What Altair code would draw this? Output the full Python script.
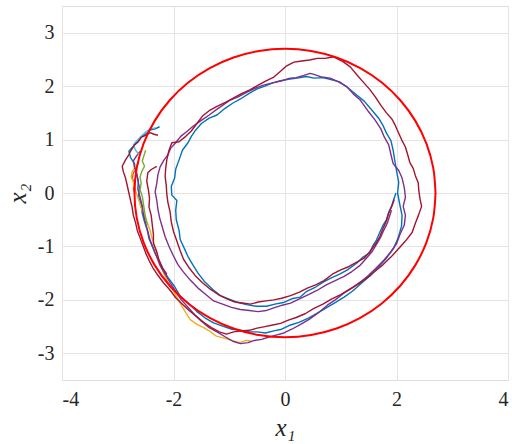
import altair as alt
import pandas as pd

# ---- data (x1, x2 pairs) ----
blue = [(-2.25,1.24),(-2.33,1.2),(-2.42,1.18),(-2.5,1.1),(-2.57,1.06),(-2.63,0.98),(-2.7,0.9),(-2.8,0.78),(-2.77,0.66),(-2.7,0.55),(-2.67,0.4),(-2.64,0.24),(-2.61,0.1),(-2.63,-0.06),(-2.58,-0.22),(-2.56,-0.38),(-2.52,-0.54),(-2.47,-0.7),(-2.44,-0.85),(-2.38,-1.0),(-2.32,-1.15),(-2.24,-1.3),(-2.17,-1.46),(-2.1,-1.58),(-1.98,-1.75),(-1.88,-1.93),(-1.74,-2.06),(-1.58,-2.22),(-1.43,-2.34),(-1.28,-2.43),(-1.12,-2.49),(-0.95,-2.55),(-0.8,-2.57),(-0.64,-2.6),(-0.5,-2.6),(-0.35,-2.62),(-0.2,-2.58),(-0.06,-2.55),(0.1,-2.47),(0.25,-2.42),(0.42,-2.34),(0.58,-2.25),(0.74,-2.15),(0.9,-2.05),(1.06,-1.95),(1.22,-1.83),(1.38,-1.68),(1.53,-1.55),(1.68,-1.38),(1.82,-1.22),(1.95,-1.03),(2.03,-0.84),(2.09,-0.62),(2.1,-0.42),(2.06,-0.22),(2.02,0.0),(2.04,0.2),(2.0,0.42),(1.97,0.6),(1.94,0.8),(1.9,0.98),(1.82,1.12),(1.76,1.26),(1.68,1.4),(1.56,1.55),(1.42,1.72),(1.28,1.84),(1.14,1.96),(0.98,2.08),(0.84,2.12),(0.68,2.16),(0.52,2.15),(0.38,2.18),(0.22,2.15),(0.06,2.13),(-0.08,2.1),(-0.22,2.06),(-0.36,2.0),(-0.5,1.95),(-0.65,1.86),(-0.8,1.76),(-0.94,1.68),(-1.08,1.58),(-1.22,1.46),(-1.36,1.4),(-1.5,1.3),(-1.6,1.18),(-1.68,1.06),(-1.74,0.94),(-1.84,0.8),(-1.9,0.62),(-1.96,0.45),(-1.98,0.28),(-2.04,0.12),(-2.03,-0.04),(-1.94,-0.14),(-1.96,-0.32),(-1.95,-0.5),(-1.9,-0.7),(-1.88,-0.87),(-1.8,-1.05),(-1.74,-1.19),(-1.65,-1.35),(-1.56,-1.5),(-1.45,-1.65),(-1.3,-1.8),(-1.16,-1.92),(-0.99,-1.99),(-0.84,-2.05),(-0.69,-2.09),(-0.52,-2.12),(-0.33,-2.12),(-0.18,-2.08),(-0.03,-2.05),(0.12,-1.98),(0.27,-1.95),(0.39,-1.84),(0.55,-1.76),(0.7,-1.66),(0.85,-1.58),(0.98,-1.52),(1.12,-1.44),(1.29,-1.31),(1.4,-1.2),(1.52,-1.12),(1.58,-0.98),(1.64,-0.88),(1.7,-0.74),(1.76,-0.6),(1.82,-0.5),(1.86,-0.36),(1.91,-0.25),(1.95,-0.12),(1.99,0.0)]

orange = [(-2.66,0.45),(-2.72,0.38),(-2.74,0.28),(-2.7,0.18),(-2.72,0.08),(-2.69,-0.02)]

yellow = [(-2.62,0.58),(-2.68,0.5),(-2.74,0.4),(-2.76,0.3),(-2.72,0.2),(-2.7,0.1),(-2.66,-0.02),(-2.62,-0.14),(-2.58,-0.28),(-2.52,-0.42),(-2.46,-0.58),(-2.42,-0.7),(-2.38,-0.86),(-2.33,-1.02),(-2.28,-1.2),(-2.22,-1.38),(-2.16,-1.54),(-2.1,-1.67),(-2.02,-1.8),(-1.94,-1.95),(-1.86,-2.1),(-1.78,-2.24),(-1.7,-2.37),(-1.58,-2.46),(-1.46,-2.52),(-1.36,-2.58),(-1.23,-2.68),(-1.08,-2.72),(-0.93,-2.77),(-0.81,-2.8),(-0.7,-2.76),(-0.6,-2.77)]

purple = [(-2.6,0.78),(-2.66,0.7),(-2.72,0.6),(-2.7,0.48),(-2.66,0.36),(-2.63,0.22),(-2.64,0.08),(-2.6,-0.08),(-2.56,-0.24),(-2.54,-0.4),(-2.5,-0.56),(-2.46,-0.72),(-2.42,-0.88),(-2.36,-1.04),(-2.3,-1.2),(-2.24,-1.36),(-2.15,-1.52),(-2.06,-1.68),(-1.96,-1.84),(-1.86,-2.0),(-1.74,-2.14),(-1.62,-2.28),(-1.5,-2.4),(-1.36,-2.52),(-1.22,-2.6),(-1.06,-2.7),(-0.92,-2.78),(-0.8,-2.82),(-0.66,-2.8),(-0.55,-2.76),(-0.42,-2.74),(-0.3,-2.7),(-0.16,-2.66),(-0.02,-2.62),(0.12,-2.55),(0.28,-2.46),(0.44,-2.36),(0.6,-2.24),(0.76,-2.1),(0.9,-2.0),(1.05,-1.88),(1.2,-1.78),(1.36,-1.66),(1.5,-1.54),(1.64,-1.4),(1.78,-1.25),(1.9,-1.1),(2.0,-0.95),(2.06,-0.78),(2.14,-0.6),(2.16,-0.42),(2.12,-0.25),(2.16,-0.08),(2.14,0.1),(2.1,0.28),(2.04,0.42),(1.94,0.55),(1.9,0.72),(1.86,0.9),(1.78,1.05),(1.72,1.2),(1.62,1.36),(1.5,1.52),(1.35,1.74),(1.22,1.86),(1.11,1.99),(0.96,2.08),(0.81,2.15),(0.66,2.17),(0.52,2.22),(0.45,2.24),(0.34,2.2),(0.2,2.16),(0.09,2.15),(-0.06,2.1),(-0.22,2.06),(-0.39,2.02),(-0.54,1.96),(-0.7,1.88),(-0.84,1.8),(-0.98,1.74),(-1.12,1.64),(-1.23,1.56),(-1.36,1.46),(-1.5,1.36),(-1.65,1.25),(-1.76,1.15),(-1.87,1.06),(-1.96,0.94),(-2.05,0.84),(-2.1,0.72),(-2.18,0.6),(-2.24,0.49),(-2.28,0.34),(-2.3,0.18),(-2.33,0.02),(-2.3,-0.14),(-2.28,-0.3),(-2.25,-0.46),(-2.2,-0.64),(-2.15,-0.82),(-2.08,-1.0),(-2.0,-1.18),(-1.92,-1.34),(-1.82,-1.48),(-1.7,-1.63),(-1.56,-1.78),(-1.42,-1.9),(-1.28,-2.02),(-1.12,-2.08),(-0.96,-2.14),(-0.8,-2.18),(-0.64,-2.2),(-0.48,-2.22),(-0.34,-2.2),(-0.2,-2.15),(-0.05,-2.1),(0.1,-2.06),(0.26,-1.98),(0.42,-1.9),(0.58,-1.82),(0.74,-1.72),(0.9,-1.64),(1.06,-1.56),(1.2,-1.47),(1.34,-1.36),(1.46,-1.22),(1.56,-1.1),(1.64,-0.96),(1.72,-0.82),(1.78,-0.68),(1.84,-0.55),(1.88,-0.42),(1.91,-0.32)]

green = [(-2.5,0.8),(-2.53,0.7),(-2.56,0.6),(-2.52,0.5),(-2.57,0.4),(-2.6,0.3),(-2.58,0.18),(-2.6,0.06),(-2.56,-0.06),(-2.54,-0.2),(-2.52,-0.34),(-2.5,-0.46),(-2.47,-0.6)]

lightblue = [(-2.62,0.72),(-2.68,0.8),(-2.72,0.9),(-2.66,0.98),(-2.58,1.06),(-2.5,1.14),(-2.42,1.2),(-2.32,1.22)]

darkred = [(-2.28,1.08),(-2.35,1.1),(-2.42,1.13),(-2.5,1.08),(-2.58,1.04),(-2.63,0.96),(-2.7,0.9),(-2.76,0.8),(-2.8,0.72),(-2.86,0.62),(-2.92,0.5),(-2.9,0.4),(-2.86,0.28),(-2.83,0.14),(-2.8,0.0),(-2.77,-0.14),(-2.74,-0.28),(-2.72,-0.42),(-2.68,-0.56),(-2.65,-0.7),(-2.6,-0.84),(-2.55,-0.98),(-2.5,-1.12),(-2.44,-1.26),(-2.37,-1.4),(-2.28,-1.54),(-2.18,-1.68),(-2.06,-1.82),(-1.96,-1.96),(-1.84,-2.08),(-1.72,-2.2),(-1.6,-2.3),(-1.46,-2.42),(-1.32,-2.52),(-1.18,-2.6),(-1.05,-2.64),(-0.92,-2.6),(-0.78,-2.58),(-0.64,-2.57),(-0.5,-2.53),(-0.36,-2.5),(-0.22,-2.47),(-0.08,-2.44),(0.06,-2.38),(0.2,-2.33),(0.36,-2.26),(0.52,-2.16),(0.68,-2.08),(0.84,-1.98),(1.0,-1.9),(1.16,-1.8),(1.32,-1.7),(1.48,-1.58),(1.62,-1.46),(1.76,-1.34),(1.9,-1.2),(2.04,-1.04),(2.16,-0.9),(2.28,-0.74),(2.34,-0.56),(2.4,-0.4),(2.45,-0.25),(2.42,-0.1),(2.4,0.05),(2.39,0.19),(2.34,0.32),(2.3,0.46),(2.24,0.57),(2.2,0.72),(2.16,0.86),(2.09,1.0),(2.04,1.12),(1.98,1.26),(1.92,1.38),(1.82,1.5),(1.72,1.64),(1.62,1.8),(1.52,1.94),(1.4,2.08),(1.3,2.2),(1.17,2.36),(1.04,2.46),(0.87,2.55),(0.72,2.52),(0.58,2.52),(0.44,2.49),(0.3,2.47),(0.16,2.45),(0.03,2.38),(-0.08,2.28),(-0.2,2.17),(-0.34,2.1),(-0.48,2.02),(-0.63,1.93),(-0.78,1.86),(-0.92,1.78),(-1.06,1.7),(-1.22,1.62),(-1.36,1.54),(-1.48,1.44),(-1.58,1.3),(-1.68,1.16),(-1.78,1.06),(-1.9,0.96),(-2.03,0.94),(-2.08,0.8),(-2.12,0.62),(-2.14,0.46),(-2.15,0.31),(-2.13,0.14),(-2.12,-0.02),(-2.1,-0.18),(-2.06,-0.36),(-2.04,-0.54),(-2.0,-0.72),(-1.94,-0.9),(-1.88,-1.08),(-1.82,-1.24),(-1.72,-1.4),(-1.6,-1.56),(-1.48,-1.68),(-1.34,-1.8),(-1.2,-1.9),(-1.04,-1.98),(-0.9,-2.04),(-0.76,-2.06),(-0.62,-2.08),(-0.48,-2.04),(-0.34,-2.02),(-0.2,-2.0),(-0.06,-1.97),(0.1,-1.92),(0.25,-1.86),(0.4,-1.78),(0.55,-1.72),(0.7,-1.64),(0.85,-1.52),(1.0,-1.44),(1.14,-1.38),(1.28,-1.3),(1.42,-1.22),(1.52,-1.1),(1.62,-0.96),(1.7,-0.82),(1.76,-0.66),(1.82,-0.52),(1.86,-0.38),(1.92,-0.24),(1.96,-0.12)]

darkred2 = [(-2.3,0.5),(-2.4,0.44),(-2.46,0.38),(-2.48,0.22),(-2.45,0.06),(-2.43,-0.1),(-2.44,-0.26),(-2.4,-0.42),(-2.38,-0.6),(-2.36,-0.78),(-2.36,-0.94),(-2.3,-1.1),(-2.26,-1.26),(-2.2,-1.4),(-2.12,-1.52)]

# red reference circle (radius 2.7), points every 10 degrees
circle_x = [2.7,2.659,2.537,2.338,2.068,1.736,1.35,0.923,0.469,0.0,-0.469,-0.923,-1.35,-1.736,-2.068,-2.338,-2.537,-2.659,-2.7,-2.659,-2.537,-2.338,-2.068,-1.736,-1.35,-0.923,-0.469,0.0,0.469,0.923,1.35,1.736,2.068,2.338,2.537,2.659,2.7]
circle_y = [0.0,0.469,0.923,1.35,1.736,2.068,2.338,2.537,2.659,2.7,2.659,2.537,2.338,2.068,1.736,1.35,0.923,0.469,0.0,-0.469,-0.923,-1.35,-1.736,-2.068,-2.338,-2.537,-2.659,-2.7,-2.659,-2.537,-2.338,-2.068,-1.736,-1.35,-0.923,-0.469,0.0]

x_ticks = [-4, -2, 0, 2, 4]
y_ticks = [-3, -2, -1, 0, 1, 2, 3]

FONT = "Times New Roman, Liberation Serif, serif"

xscale = alt.Scale(domain=[-4, 4], nice=False, zero=False)
yscale = alt.Scale(domain=[-3.5, 3.5], nice=False, zero=False)

xaxis = alt.Axis(values=x_ticks, labelExpr="'' + datum.value", title="x₁",
                 titleFont=FONT, titleFontStyle="italic", titleFontSize=25, titleFontWeight="normal",
                 titleColor="#262626", titleX=223, titleY=55, titleAlign="center", titleBaseline="alphabetic",
                 labelFont=FONT, labelFontSize=20, labelColor="#262626", labelPadding=9,
                 grid=True, gridColor="#e4e4e4", gridWidth=1, domain=False, ticks=False, tickSize=0)
yaxis = alt.Axis(values=y_ticks, labelExpr="'' + datum.value", title="x₂",
                 titleFont=FONT, titleFontStyle="italic", titleFontSize=25, titleFontWeight="normal",
                 titleColor="#262626", titleX=-37, titleY=187, titleAngle=270, titleAlign="center",
                 titleBaseline="alphabetic",
                 labelFont=FONT, labelFontSize=20, labelColor="#262626", labelPadding=8,
                 grid=True, gridColor="#e4e4e4", gridWidth=1, domain=False, ticks=False, tickSize=0)


def traj(pts, color, width=1.4):
    df = pd.DataFrame({"x": [p[0] for p in pts], "y": [p[1] for p in pts],
                       "i": list(range(len(pts)))})
    return alt.Chart(df).mark_line(color=color, strokeWidth=width, strokeJoin="round").encode(
        x=alt.X("x:Q", scale=xscale, axis=xaxis),
        y=alt.Y("y:Q", scale=yscale, axis=yaxis),
        order="i:Q",
    )


layers = [
    traj(blue, "#0072BD"),
    traj(orange, "#D95319"),
    traj(yellow, "#EDB120"),
    traj(purple, "#7E2F8E"),
    traj(green, "#77AC30"),
    traj(lightblue, "#4DBEEE"),
    traj(darkred, "#A2142F"),
    traj(darkred2, "#A2142F"),
]

circ_df = pd.DataFrame({"x": circle_x, "y": circle_y, "i": list(range(len(circle_x)))})
circle = alt.Chart(circ_df).mark_line(color="#FF0000", strokeWidth=2, interpolate="cardinal").encode(
    x=alt.X("x:Q", scale=xscale, axis=xaxis),
    y=alt.Y("y:Q", scale=yscale, axis=yaxis),
    order="i:Q",
)

chart = alt.layer(*layers, circle).properties(
    width=446, height=374,
    autosize=alt.AutoSizeParams(type="none"),
    padding={"left": 62, "top": 6, "right": 4, "bottom": 64},
    background="white",
).configure_view(stroke="#8f8f8f", strokeWidth=1).configure(font=FONT)

chart.save("out.html", embed_options={"renderer": "svg", "actions": False})
